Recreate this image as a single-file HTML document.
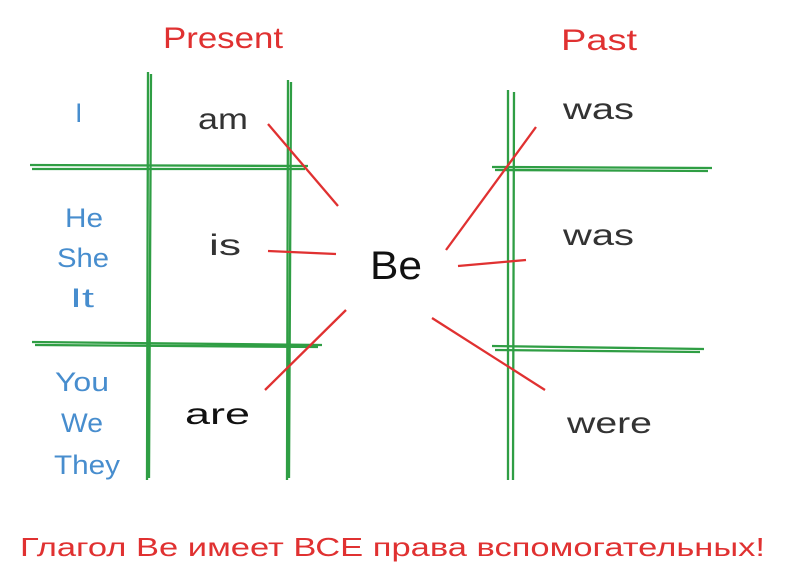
<!DOCTYPE html>
<html><head><meta charset="utf-8"><style>
html,body{margin:0;padding:0;background:#fff;}
svg{display:block;}
text{font-family:"Liberation Sans","DejaVu Sans",sans-serif;}
</style></head><body>
<svg width="799" height="588" viewBox="0 0 799 588">
<g stroke="#2f9e44" stroke-width="2.3" fill="none">
<path d="M148 72 L147 480 M151 74 L149 478"/>
<path d="M288 80 L287 480 M291 82 L289 478"/>
<path d="M30 165 L308 166 M32 169 L305 169"/>
<path d="M32 342 L322 345 M35 345 L318 347"/>
<path d="M508 90 L508 480 M514 92 L513 480"/>
<path d="M492 167 L712 168 M495 170 L708 171"/>
<path d="M492 346 L704 349 M495 350 L700 352"/>
</g>
<g stroke="#e03131" stroke-width="2.3" fill="none">
<path d="M268 124 L338 206"/>
<path d="M268 251 L336 254"/>
<path d="M265 390 L346 310"/>
<path d="M446 250 L536 127"/>
<path d="M458 266 L526 260"/>
<path d="M432 318 L545 390"/>
</g>
<text x="163" y="48" font-size="30" fill="#e03131" textLength="120" lengthAdjust="spacingAndGlyphs">Present</text>
<text x="561" y="50" font-size="30" fill="#e03131" textLength="76" lengthAdjust="spacingAndGlyphs">Past</text>
<g fill="#1971c2" fill-opacity="0.8" font-size="27">
<text x="75" y="122">I</text>
<text x="65" y="227" textLength="38" lengthAdjust="spacingAndGlyphs">He</text>
<text x="57" y="267" textLength="52" lengthAdjust="spacingAndGlyphs">She</text>
<text x="70" y="307" textLength="24" lengthAdjust="spacingAndGlyphs">It</text>
<text x="55" y="391" textLength="54" lengthAdjust="spacingAndGlyphs">You</text>
<text x="61" y="432" textLength="42" lengthAdjust="spacingAndGlyphs">We</text>
<text x="54" y="474" textLength="66" lengthAdjust="spacingAndGlyphs">They</text>
</g>
<g fill="#333" font-size="30">
<text x="198" y="129" textLength="50" lengthAdjust="spacingAndGlyphs">am</text>
<text x="209" y="255" textLength="32" lengthAdjust="spacingAndGlyphs">is</text>
<text x="185" y="424" fill="#111" textLength="65" lengthAdjust="spacingAndGlyphs">are</text>
<text x="563" y="119" textLength="71" lengthAdjust="spacingAndGlyphs">was</text>
<text x="563" y="245" textLength="71" lengthAdjust="spacingAndGlyphs">was</text>
<text x="567" y="433" textLength="85" lengthAdjust="spacingAndGlyphs">were</text>
</g>
<text x="370" y="279" font-size="40" fill="#111" textLength="52" lengthAdjust="spacingAndGlyphs">Be</text>
<text x="20" y="556" font-size="26" fill="#e03131" textLength="745" lengthAdjust="spacingAndGlyphs">Глагол Be имеет ВСЕ права вспомогательных!</text>
</svg>
</body></html>
